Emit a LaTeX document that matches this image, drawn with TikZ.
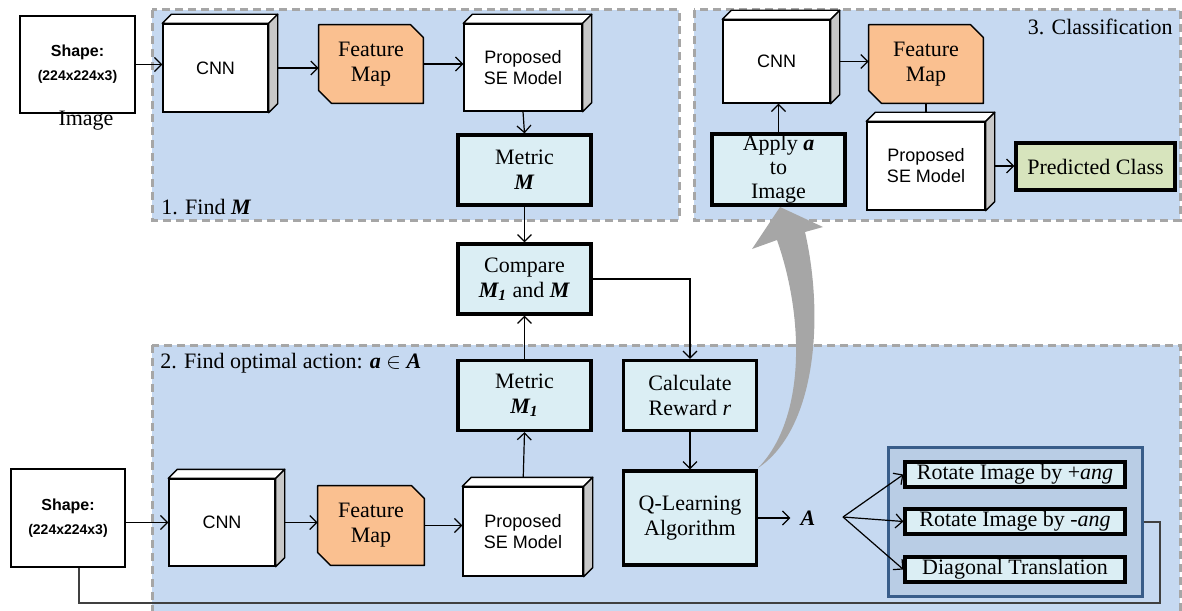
\documentclass[tikz,border=0pt]{standalone}
\usepackage{fontspec}
\setmainfont{Liberation Serif}
\setsansfont{Liberation Sans}
\usetikzlibrary{arrows.meta}

\definecolor{zonefill}{HTML}{C6D9F1}
\definecolor{zoneline}{HTML}{A6A6A6}
\definecolor{stepfill}{HTML}{DBEEF4}
\definecolor{fmapfill}{HTML}{FAC090}
\definecolor{classfill}{HTML}{D7E4BD}
\definecolor{groupfill}{HTML}{B9CDE5}
\definecolor{groupline}{HTML}{385D8A}
\definecolor{sidegray}{HTML}{C8C8C8}
\definecolor{loopline}{HTML}{404040}
\definecolor{bigarrow}{HTML}{A6A6A6}

\pgfdeclarelayer{bg}
\pgfdeclarelayer{mid}
\pgfsetlayers{bg,mid,main}

\tikzset{
  zone/.style={draw=zoneline, fill=zonefill, line width=1.5pt, dash pattern=on 4pt off 2.5pt},
  netbox/.style={draw, fill=white, line width=0.7pt, font=\sffamily\fontsize{9}{10.5}\selectfont, align=center, inner sep=0pt},
  stepbox/.style={draw, fill=stepfill, line width=1.6pt, font=\fontsize{11}{12.5}\selectfont, align=center, inner sep=0pt, minimum width=66.5pt, minimum height=35pt},
  fmapbox/.style={font=\fontsize{11}{12.5}\selectfont, align=center, inner sep=0pt, minimum width=52pt, minimum height=39pt},
  imgbox/.style={draw, fill=white, line width=0.8pt, align=center, inner sep=0pt, font=\sffamily\bfseries},
  actbox/.style={draw, fill=stepfill, line width=1.6pt, font=\fontsize{11}{12.5}\selectfont, inner sep=0pt, minimum width=110pt, minimum height=12.5pt},
  conn/.style={line width=0.6pt, -{Straight Barb[length=3.5pt,width=7pt]}},
  zonelabel/.style={font=\fontsize{11}{13}\selectfont, inner sep=0pt}
}

% depth faces of a 3D block
\newcommand{\blockdepth}[1]{%
  \draw[line width=0.7pt, fill=white, line join=round] (#1.north west) -- ++(9,-9) -- ([shift={(9,-9)}]#1.north east) -- (#1.north east) -- cycle;
  \draw[line width=0.7pt, fill=sidegray, line join=round] (#1.north east) -- ++(9,-9) -- ([shift={(9,-9)}]#1.south east) -- (#1.south east) -- cycle;}

% cut-corner outline of a feature map
\newcommand{\fmapshape}[1]{%
  \begin{pgfonlayer}{mid}
  \draw[line width=0.7pt, fill=fmapfill, line join=round] (#1.north west) -- ([shift={(-13,0)}]#1.north east) -- ([shift={(0,13)}]#1.north east) -- (#1.south east) -- ([shift={(13,0)}]#1.south west) -- ([shift={(0,-13)}]#1.south west) -- cycle;
  \end{pgfonlayer}}

\begin{document}
\begin{tikzpicture}[x=0.5pt, y=-0.5pt]
\useasboundingbox (0,0) rectangle (1182,610);

%% zones
\begin{pgfonlayer}{bg}
\draw[zone] (152,10) rectangle (679,220);
\draw[zone] (694,10) rectangle (1180,220);
\draw[zone] (152,345) rectangle (1180,640);
\end{pgfonlayer}

%% 1. Find M
\node[imgbox, minimum width=57.5pt, minimum height=48.5pt] (img1) at (77.5,64.5) {\fontsize{8}{9}\selectfont Shape:\\ \fontsize{7}{8}\selectfont (224x224x3)};
\node[font=\fontsize{11}{13}\selectfont, inner sep=0pt] (imglbl) at (86,121) {Image};
\node[netbox, minimum width=52.5pt, minimum height=44pt] (cnn1) at (215.5,68) {CNN};
\node[fmapbox] (fm1) at (371,64) {Feature\\Map};
\node[netbox, minimum width=59pt, minimum height=43.5pt] (se1) at (523,67.5) {Proposed\\SE Model};
\node[stepbox] (met1) at (524.5,170) {Metric\\\textbf{\textit{M}}};
\node[zonelabel, anchor=west] (lbl1) at (161,207) {1. Find \textbf{\textit{M}}};

\node[stepbox] (cmp) at (524.5,279) {Compare\\\textbf{\textit{M\textsubscript{1}}} and \textbf{\textit{M}}};

%% 2. Find optimal action
\node[zonelabel, anchor=west] (lbl2) at (160,363) {2. Find optimal action: \textbf{\textit{a}} $\in$ \textbf{\textit{A}}};
\node[stepbox] (met2) at (524.5,395.5) {Metric\\\textbf{\textit{M\textsubscript{1}}}};
\node[stepbox] (calc) at (690,395.5) {Calculate\\Reward \textit{r}};
\node[stepbox, minimum height=47pt] (qlearn) at (690,518) {Q-Learning\\Algorithm};
\node[imgbox, minimum width=57pt, minimum height=49pt] (img2) at (68,518) {\fontsize{8}{9}\selectfont Shape:\\ \fontsize{7}{8}\selectfont (224x224x3)};
\node[netbox, minimum width=53pt, minimum height=43.5pt] (cnn2) at (222,522.5) {CNN};
\node[fmapbox, minimum width=53pt, minimum height=39.5pt] (fm2) at (371,525.5) {Feature\\Map};
\node[netbox, minimum width=60pt, minimum height=44.5pt] (se2) at (523,531.5) {Proposed\\SE Model};
\node[font=\fontsize{11}{13}\selectfont, inner sep=5pt] (act) at (808,518) {\textbf{\textit{A}}};
\coordinate (fan) at (843,517);
\node[draw=groupline, fill=groupfill, line width=1.5pt, minimum width=127pt, minimum height=74.5pt, inner sep=0pt] (grp) at (1015,521.5) {};
\node[actbox] (rotp) at (1015,474.5) {Rotate Image by +\textit{ang}};
\node[actbox] (rotm) at (1015,521.5) {Rotate Image by -\textit{ang}};
\node[actbox] (diag) at (1015,569.5) {Diagonal Translation};
\coordinate (loop) at (1160,603);

%% 3. Classification
\node[zonelabel, anchor=east] (lbl3) at (1173,27) {3. Classification};
\node[netbox, minimum width=53.5pt, minimum height=41.5pt] (cnn3) at (776.5,61.5) {CNN};
\node[fmapbox, minimum width=57pt] (fm3) at (926,64) {Feature\\Map};
\node[netbox, minimum width=59pt, minimum height=44pt] (se3) at (926,166) {Proposed\\SE Model};
\node[stepbox, minimum height=35.5pt, font=\fontsize{11}{12}\selectfont] (apply) at (778.5,169.5) {Apply \textbf{\textit{a}}\\to\\Image};
\node[stepbox, fill=classfill, minimum width=79.5pt, minimum height=23.5pt] (pred) at (1095.5,166.5) {Predicted Class};

%% connectors
\draw[conn] (img1.east) -- (img1.east -| cnn1.west);
\draw[conn] (cnn1.east) -- (cnn1.east -| fm1.west);
\draw[conn] (fm1.east) -- (fm1.east -| se1.west);
\draw[conn] (se1.south) -- (met1.north);
\draw[conn] (met1.south) -- (cmp.north);
\draw[conn] (cmp.east) -| (calc.north);
\draw[conn] (met2.north) -- (cmp.south);
\draw[conn] (se2.north) -- (met2.south);
\draw[conn] (calc.south) -- (qlearn.north);
\draw[conn] (cnn2.west -| img2.east) -- (cnn2.west);
\draw[conn] (cnn2.east) -- (cnn2.east -| fm2.west);
\draw[conn] (fm2.east) -- (fm2.east -| se2.west);
\draw[conn] (qlearn.east) -- (act.west);
\draw[conn] (fan) -- (rotp.west);
\draw[conn] (fan) -- (rotm.west);
\draw[conn] (fan) -- (diag.west);
\draw[line width=1pt, draw=loopline] (grp.east) -| (loop) -| ([xshift=5.5pt]img2.south);
\draw[conn] (apply.north) -- (apply.north |- cnn3.south);
\draw[conn] (cnn3.east) -- (cnn3.east -| fm3.west);
\draw[line width=0.6pt] (fm3.south) -- (se3.north);
\draw[conn] (se3.east) -- (se3.east -| pred.west);

%% big arrow
\begin{pgfonlayer}{mid}
\fill[bigarrow] (758,468) .. controls (815,430) and (825,320) .. (805,232) -- (823,227) -- (780,207) -- (752,249) -- (777,240) .. controls (805,320) and (805,420) .. (758,468) -- cycle;
\end{pgfonlayer}

%% shapes
\fmapshape{fm1}
\fmapshape{fm2}
\fmapshape{fm3}
\blockdepth{cnn1}
\blockdepth{se1}
\blockdepth{cnn2}
\blockdepth{se2}
\blockdepth{cnn3}
\blockdepth{se3}
\end{tikzpicture}
\end{document}
